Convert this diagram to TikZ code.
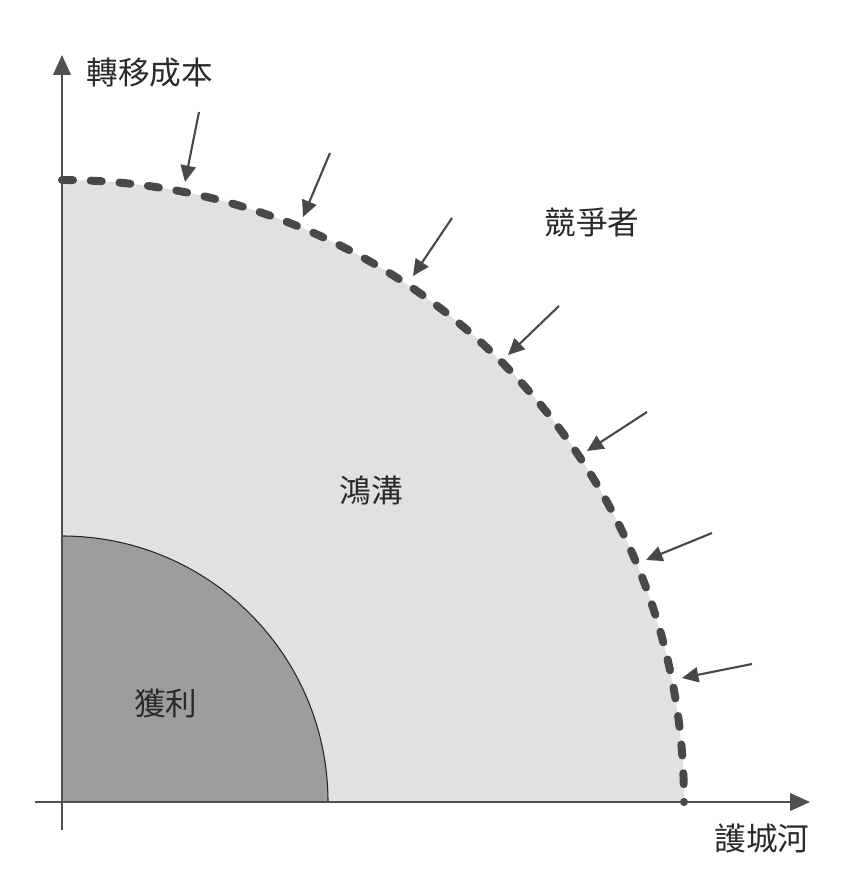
\documentclass[tikz,border=0pt]{standalone}
\usepackage{fontspec}
\newfontfamily\cjk{Noto Sans CJK TC}
\usetikzlibrary{arrows.meta}
\definecolor{moatfill}{HTML}{E1E1E1}
\definecolor{profitfill}{HTML}{9D9D9D}
\definecolor{dashc}{HTML}{484848}
\definecolor{axisc}{HTML}{505050}
\definecolor{txtc}{HTML}{2A2A2A}
\begin{document}
\begin{tikzpicture}[x=0.03cm,y=0.03cm,
  lbl/.style={font=\cjk\fontsize{27}{30}\selectfont, text=txtc, inner sep=0pt},
  axisline/.style={draw=axisc, line width=1.6pt, -{Triangle[length=17pt,width=15pt]}},
  attack/.style={draw=dashc, line width=1.8pt, -{Triangle[length=14pt,width=13pt]}},
  moatline/.style={draw=dashc, line width=6.8pt, line cap=round, dash pattern=on 9.4pt off 15.13pt}
]
\useasboundingbox (-62,-80) rectangle (796,802);
% regions
\fill[moatfill] (0,0) -- (0,622) arc[start angle=90,end angle=0,radius=622] -- cycle;
\fill[profitfill] (0,0) -- (0,266) arc[start angle=90,end angle=0,radius=266] -- cycle;
\draw[black!85, line width=0.9pt] (0,266) arc[start angle=90,end angle=0,radius=266];
% axes
\coordinate (ybot) at (0,-28);
\coordinate (ytop) at (0,747);
\coordinate (xleft) at (-27,0);
\coordinate (xright) at (748,0);
\draw[axisline] (ybot) -- (ytop);
\draw[axisline] (xleft) -- (xright);
% moat boundary
\draw[moatline] (0,622) arc[start angle=90,end angle=0,radius=622];
\coordinate (moatend) at (622,0);
\fill[dashc] (moatend) circle (3pt);
% attacking arrows
\coordinate (t1) at (137,690); \coordinate (h1) at (123,620);
\coordinate (t2) at (268,649); \coordinate (h2) at (241,585);
\coordinate (t3) at (390,584); \coordinate (h3) at (351,526);
\coordinate (t4) at (497,496); \coordinate (h4) at (446,447);
\coordinate (t5) at (585,390); \coordinate (h5) at (525,351);
\coordinate (t6) at (650,269); \coordinate (h6) at (584,242);
\coordinate (t7) at (690,138); \coordinate (h7) at (620,124);
\foreach \i in {1,...,7} {\draw[attack] (t\i) -- (h\i);}
% labels
\node[lbl] (ylabel) at (88,729) {轉移成本};
\node[lbl] (comp) at (530,580) {競爭者};
\node[lbl] (moat) at (309,312) {鴻溝};
\node[lbl] (profit) at (104,99) {獲利};
\node[lbl] (xlabel) at (700,-36) {護城河};
\end{tikzpicture}
\end{document}
